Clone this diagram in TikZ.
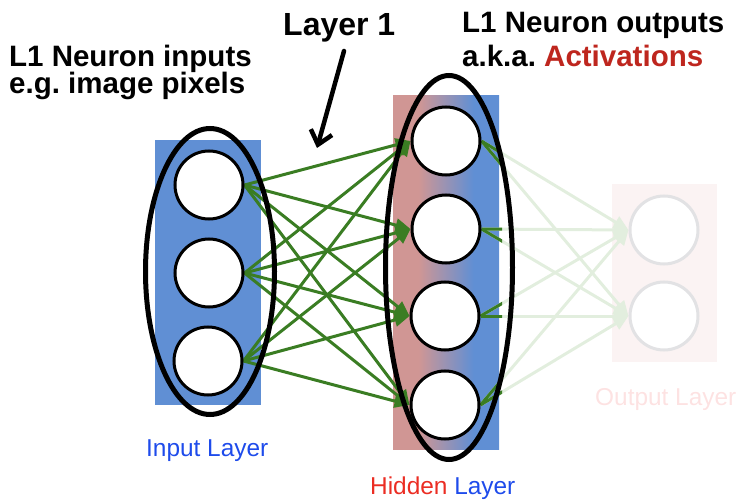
\documentclass[tikz,border=0pt]{standalone}
\usepackage{fontspec}
\setmainfont{Liberation Sans}
\usetikzlibrary{arrows.meta}

\definecolor{inblue}{RGB}{96,143,212}
\definecolor{hidpink}{RGB}{208,150,148}
\definecolor{wire}{RGB}{58,125,35}
\definecolor{fadewire}{RGB}{226,238,222}
\definecolor{outbox}{RGB}{251,243,243}
\definecolor{outring}{RGB}{226,226,228}
\definecolor{outtext}{RGB}{253,226,226}
\definecolor{actred}{RGB}{190,38,30}
\definecolor{lblblue}{RGB}{30,75,235}
\definecolor{lblred}{RGB}{235,45,35}

\pgfdeclarehorizontalshading{hidgrad}{100bp}{color(0bp)=(hidpink); color(37bp)=(hidpink); color(63bp)=(inblue); color(100bp)=(inblue)}

\pgfdeclarelayer{back}
\pgfdeclarelayer{wires}
\pgfsetlayers{back,wires,main}

\frenchspacing

\begin{document}
\begin{tikzpicture}[x=1pt,y=-1pt,
  neuron/.style={circle,draw,fill=white,line width=3pt,minimum size=68pt,inner sep=0pt},
  ghost/.style={neuron,draw=outring},
  ring/.style={draw,line width=5pt},
  conn/.style={draw=wire,line width=3pt,-{Triangle[length=15pt,width=13pt]}},
  fadeconn/.style={conn,draw=fadewire},
  bare/.style={draw=wire,line width=3pt},
  big/.style={font=\fontsize{29.5}{34}\selectfont\bfseries,inner sep=0pt,anchor=base west},
  small/.style={font=\fontsize{24.4}{28}\selectfont,inner sep=0pt,anchor=base west}]

\useasboundingbox (0,0) rectangle (740,500);

% layer boxes
\begin{pgfonlayer}{back}
  \fill[inblue] (155,140) rectangle (261,405);
  \shade[shading=hidgrad] (393,96) rectangle (499,449);
  \fill[outbox] (612,184) rectangle (717,362);
\end{pgfonlayer}

% neurons
\node[neuron] (i1) at (209,185) {};
\node[neuron] (i2) at (209,273) {};
\node[neuron] (i3) at (208,361) {};

\node[neuron] (h1) at (446,141) {};
\node[neuron] (h2) at (446,229) {};
\node[neuron] (h3) at (445,316) {};
\node[neuron] (h4) at (445,405) {};

\node[ghost] (o1) at (664,230) {};
\node[ghost] (o2) at (664,316) {};

% connections
\begin{pgfonlayer}{wires}
  \foreach \h in {h1,h2,h3,h4}
    \foreach \o in {o1,o2}
      \draw[fadeconn] (\h.east) -- (\o.west);
  \begin{scope}
    \clip (0,0) rectangle (502,500);
    \foreach \h in {h1,h2,h3,h4}
      \foreach \o in {o1,o2}
        \draw[bare] (\h.east) -- (\o.west);
  \end{scope}
  \foreach \i in {i1,i2,i3}
    \foreach \h in {h1,h2,h3,h4}
      \draw[conn] (\i.east) -- (\h.west);
\end{pgfonlayer}

% grouping rings
\draw[ring] (210,271.5) ellipse [x radius=64.5, y radius=143];
\draw[ring] (449,267.5) ellipse [x radius=63.5, y radius=192];

% pointer to layer 1
\coordinate (pa) at (344,51);
\coordinate (pb) at (317,148);
\draw[line width=4.5pt,line cap=round,-{Straight Barb[length=13pt,width=22pt]}] (pa) -- (pb);

% labels
\node[big] (tin1) at (9,67) {L1 Neuron inputs};
\node[big] (tin2) at (9,94) {e.g. image pixels};
\node[big,font=\fontsize{32}{36}\selectfont\bfseries] (tl1) at (283,36) {Layer 1};
\node[big] (tout1) at (462,33) {L1 Neuron outputs};
\node[big] (tout2) at (462,67) {a.k.a. \textcolor{actred}{Activations}};

\node[small,text=lblblue] (lin) at (146,456) {Input Layer};
\node[small] (lhid) at (370,494) {\textcolor{lblred}{Hidden} \textcolor{lblblue}{Layer}};
\node[small,text=outtext] (lout) at (595,405) {Output Layer};

\end{tikzpicture}
\end{document}
